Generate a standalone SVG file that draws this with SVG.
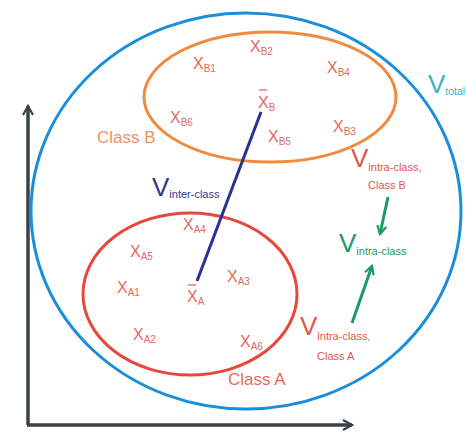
<svg xmlns="http://www.w3.org/2000/svg" width="467" height="434" viewBox="0 0 467 434">
<defs>
<style>
.pt{font-family:"Liberation Sans",Arial,sans-serif;font-size:16px;fill:#e4675c}
.sub{font-size:10px}
.cls{font-family:"Liberation Sans",Arial,sans-serif;font-size:17px}
.v{font-family:"Liberation Sans",Arial,sans-serif;font-size:26px}
.vs{font-size:11px}
</style>
<marker id="chev" viewBox="0 0 12 12" refX="10" refY="6" markerWidth="12" markerHeight="12" markerUnits="userSpaceOnUse" orient="auto">
<path d="M1,1 L10,6 L1,11" fill="none" stroke="#3a4148" stroke-width="2.2"/>
</marker>
<marker id="gchev" viewBox="0 0 12 12" refX="10" refY="6" markerWidth="11" markerHeight="11" markerUnits="userSpaceOnUse" orient="auto">
<path d="M1,1 L10,6 L1,11" fill="none" stroke="#1b9a62" stroke-width="2.4"/>
</marker>
</defs>
<rect width="467" height="434" fill="#ffffff"/>
<g id="axes" fill="none" stroke="#3a4148" stroke-width="3.5">
<path d="M28,425 L28,106" marker-end="url(#chev)"/>
<path d="M27,425 L352,425" marker-end="url(#chev)"/>
</g>
<g id="total">
<ellipse cx="246" cy="211" rx="215" ry="198" fill="none" stroke="#1a8fd9" stroke-width="3"/>
<text class="v" x="428" y="93" fill="#3bb3bf">V<tspan font-size="10.5px" dy="2">total</tspan></text>
</g>
<g id="classB">
<ellipse cx="270" cy="97" rx="126" ry="65" fill="none" stroke="#f08a3e" stroke-width="3"/>
<text class="cls" x="97" y="143" fill="#f0915c">Class B</text>
<text class="pt" x="193" y="69">X<tspan class="sub" dy="3">B1</tspan></text>
<text class="pt" x="250" y="52">X<tspan class="sub" dy="3">B2</tspan></text>
<text class="pt" x="327" y="73">X<tspan class="sub" dy="3">B4</tspan></text>
<text class="pt" x="170" y="123">X<tspan class="sub" dy="3">B6</tspan></text>
<text class="pt" x="268" y="142">X<tspan class="sub" dy="3">B5</tspan></text>
<text class="pt" x="333" y="132">X<tspan class="sub" dy="3">B3</tspan></text>
<text class="pt" x="258" y="108">X<tspan class="sub" dy="3">B</tspan></text>
<line x1="259" y1="90" x2="267" y2="90" stroke="#e4675c" stroke-width="1.3"/>
</g>
<g id="classA">
<ellipse cx="190" cy="294" rx="107" ry="81" fill="none" stroke="#e8473e" stroke-width="3"/>
<text class="cls" x="228" y="385" fill="#e46a5c">Class A</text>
<text class="pt" x="183" y="230">X<tspan class="sub" dy="3">A4</tspan></text>
<text class="pt" x="130" y="257">X<tspan class="sub" dy="3">A5</tspan></text>
<text class="pt" x="117" y="293">X<tspan class="sub" dy="3">A1</tspan></text>
<text class="pt" x="227" y="282">X<tspan class="sub" dy="3">A3</tspan></text>
<text class="pt" x="133" y="340">X<tspan class="sub" dy="3">A2</tspan></text>
<text class="pt" x="240" y="347">X<tspan class="sub" dy="3">A6</tspan></text>
<text class="pt" x="187" y="302">X<tspan class="sub" dy="3">A</tspan></text>
<line x1="188" y1="285" x2="196" y2="285" stroke="#e4675c" stroke-width="1.3"/>
</g>
<g id="labels">
<text class="v" x="152" y="196" fill="#2d3a8c">V<tspan class="vs" dy="2">inter-class</tspan></text>
<text class="v" x="351" y="167" fill="#e0574c">V<tspan class="vs" dy="4">intra-class,</tspan></text>
<text class="vs" x="368" y="189" fill="#e0574c" font-family="Liberation Sans,Arial,sans-serif">Class B</text>
<text class="v" x="339" y="252" fill="#1b9a62">V<tspan class="vs" dy="3">intra-class</tspan></text>
<text class="v" x="300" y="335" fill="#e0574c">V<tspan class="vs" dy="5">intra-class,</tspan></text>
<text class="vs" x="317" y="360" fill="#e0574c" font-family="Liberation Sans,Arial,sans-serif">Class A</text>
</g>
<g id="connectors" fill="none">
<line x1="261" y1="112" x2="197" y2="281" stroke="#2b3190" stroke-width="3"/>
<line x1="388" y1="197" x2="380" y2="234" stroke="#1b9a62" stroke-width="3" marker-end="url(#gchev)"/>
<line x1="352" y1="323" x2="372" y2="266" stroke="#1b9a62" stroke-width="3" marker-end="url(#gchev)"/>
</g>
</svg>
